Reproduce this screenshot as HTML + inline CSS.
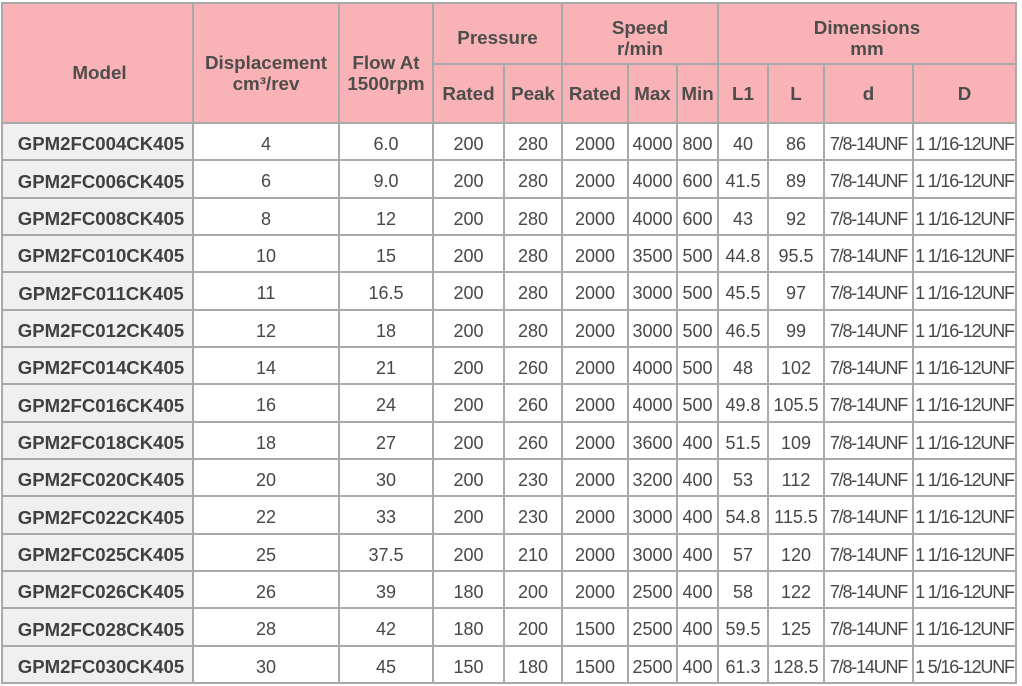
<!DOCTYPE html>
<html>
<head>
<meta charset="utf-8">
<style>
html,body{margin:0;padding:0;background:#fff;width:1022px;height:686px;overflow:hidden;}
.t{position:absolute;left:1px;top:2px;display:grid;background:#a9a9a9;padding:2px;gap:2px;
grid-template-columns:189px 144px 92px 69px 56px 64px 47px 39px 48px 54px 87px 101px;
grid-template-rows:59px 57px 35px 36px 35px 35px 36px 35px 35px 36px 35px 35px 36px 35px 35px 36px 35px;
font-family:"Liberation Sans",Arial,sans-serif;font-size:18px;color:#474747;}
.t>div{background:#fff;display:flex;align-items:center;justify-content:center;text-align:center;box-sizing:border-box;padding-top:5px;white-space:nowrap;}
.t>div.h{background:#f9b2b5;font-weight:bold;color:#4d4d4d;line-height:21px;padding-top:0;font-size:18.8px;}
.t>div.r{padding-top:19px;}
.t>div.g{padding-top:8px;}
.t>div.m{background:#efefef;font-weight:bold;color:#404040;padding-left:7px;font-size:18.6px;}
.t>div.u{letter-spacing:-1.2px;}
</style>
</head>
<body>
<div class="t">
<div class="h r" style="grid-row:1/3;grid-column:1;padding-left:4px">Model</div>
<div class="h r" style="grid-row:1/3;grid-column:2">Displacement<br>cm³/rev</div>
<div class="h r" style="grid-row:1/3;grid-column:3">Flow At<br>1500rpm</div>
<div class="h g" style="grid-row:1;grid-column:4/6">Pressure</div>
<div class="h g" style="grid-row:1;grid-column:6/9">Speed<br>r/min</div>
<div class="h g" style="grid-row:1;grid-column:9/13">Dimensions<br>mm</div>
<div class="h" style="grid-row:2;grid-column:4">Rated</div>
<div class="h" style="grid-row:2;grid-column:5">Peak</div>
<div class="h" style="grid-row:2;grid-column:6">Rated</div>
<div class="h" style="grid-row:2;grid-column:7">Max</div>
<div class="h" style="grid-row:2;grid-column:8">Min</div>
<div class="h" style="grid-row:2;grid-column:9">L1</div>
<div class="h" style="grid-row:2;grid-column:10">L</div>
<div class="h" style="grid-row:2;grid-column:11">d</div>
<div class="h" style="grid-row:2;grid-column:12">D</div>

<div class="m">GPM2FC004CK405</div><div>4</div><div>6.0</div><div>200</div><div>280</div><div>2000</div><div>4000</div><div>800</div><div>40</div><div>86</div><div class="u">7/8-14UNF</div><div class="u">1 1/16-12UNF</div>
<div class="m">GPM2FC006CK405</div><div>6</div><div>9.0</div><div>200</div><div>280</div><div>2000</div><div>4000</div><div>600</div><div>41.5</div><div>89</div><div class="u">7/8-14UNF</div><div class="u">1 1/16-12UNF</div>
<div class="m">GPM2FC008CK405</div><div>8</div><div>12</div><div>200</div><div>280</div><div>2000</div><div>4000</div><div>600</div><div>43</div><div>92</div><div class="u">7/8-14UNF</div><div class="u">1 1/16-12UNF</div>
<div class="m">GPM2FC010CK405</div><div>10</div><div>15</div><div>200</div><div>280</div><div>2000</div><div>3500</div><div>500</div><div>44.8</div><div>95.5</div><div class="u">7/8-14UNF</div><div class="u">1 1/16-12UNF</div>
<div class="m">GPM2FC011CK405</div><div>11</div><div>16.5</div><div>200</div><div>280</div><div>2000</div><div>3000</div><div>500</div><div>45.5</div><div>97</div><div class="u">7/8-14UNF</div><div class="u">1 1/16-12UNF</div>
<div class="m">GPM2FC012CK405</div><div>12</div><div>18</div><div>200</div><div>280</div><div>2000</div><div>3000</div><div>500</div><div>46.5</div><div>99</div><div class="u">7/8-14UNF</div><div class="u">1 1/16-12UNF</div>
<div class="m">GPM2FC014CK405</div><div>14</div><div>21</div><div>200</div><div>260</div><div>2000</div><div>4000</div><div>500</div><div>48</div><div>102</div><div class="u">7/8-14UNF</div><div class="u">1 1/16-12UNF</div>
<div class="m">GPM2FC016CK405</div><div>16</div><div>24</div><div>200</div><div>260</div><div>2000</div><div>4000</div><div>500</div><div>49.8</div><div>105.5</div><div class="u">7/8-14UNF</div><div class="u">1 1/16-12UNF</div>
<div class="m">GPM2FC018CK405</div><div>18</div><div>27</div><div>200</div><div>260</div><div>2000</div><div>3600</div><div>400</div><div>51.5</div><div>109</div><div class="u">7/8-14UNF</div><div class="u">1 1/16-12UNF</div>
<div class="m">GPM2FC020CK405</div><div>20</div><div>30</div><div>200</div><div>230</div><div>2000</div><div>3200</div><div>400</div><div>53</div><div>112</div><div class="u">7/8-14UNF</div><div class="u">1 1/16-12UNF</div>
<div class="m">GPM2FC022CK405</div><div>22</div><div>33</div><div>200</div><div>230</div><div>2000</div><div>3000</div><div>400</div><div>54.8</div><div>115.5</div><div class="u">7/8-14UNF</div><div class="u">1 1/16-12UNF</div>
<div class="m">GPM2FC025CK405</div><div>25</div><div>37.5</div><div>200</div><div>210</div><div>2000</div><div>3000</div><div>400</div><div>57</div><div>120</div><div class="u">7/8-14UNF</div><div class="u">1 1/16-12UNF</div>
<div class="m">GPM2FC026CK405</div><div>26</div><div>39</div><div>180</div><div>200</div><div>2000</div><div>2500</div><div>400</div><div>58</div><div>122</div><div class="u">7/8-14UNF</div><div class="u">1 1/16-12UNF</div>
<div class="m">GPM2FC028CK405</div><div>28</div><div>42</div><div>180</div><div>200</div><div>1500</div><div>2500</div><div>400</div><div>59.5</div><div>125</div><div class="u">7/8-14UNF</div><div class="u">1 1/16-12UNF</div>
<div class="m">GPM2FC030CK405</div><div>30</div><div>45</div><div>150</div><div>180</div><div>1500</div><div>2500</div><div>400</div><div>61.3</div><div>128.5</div><div class="u">7/8-14UNF</div><div class="u">1 5/16-12UNF</div>
</div>
</body>
</html>
